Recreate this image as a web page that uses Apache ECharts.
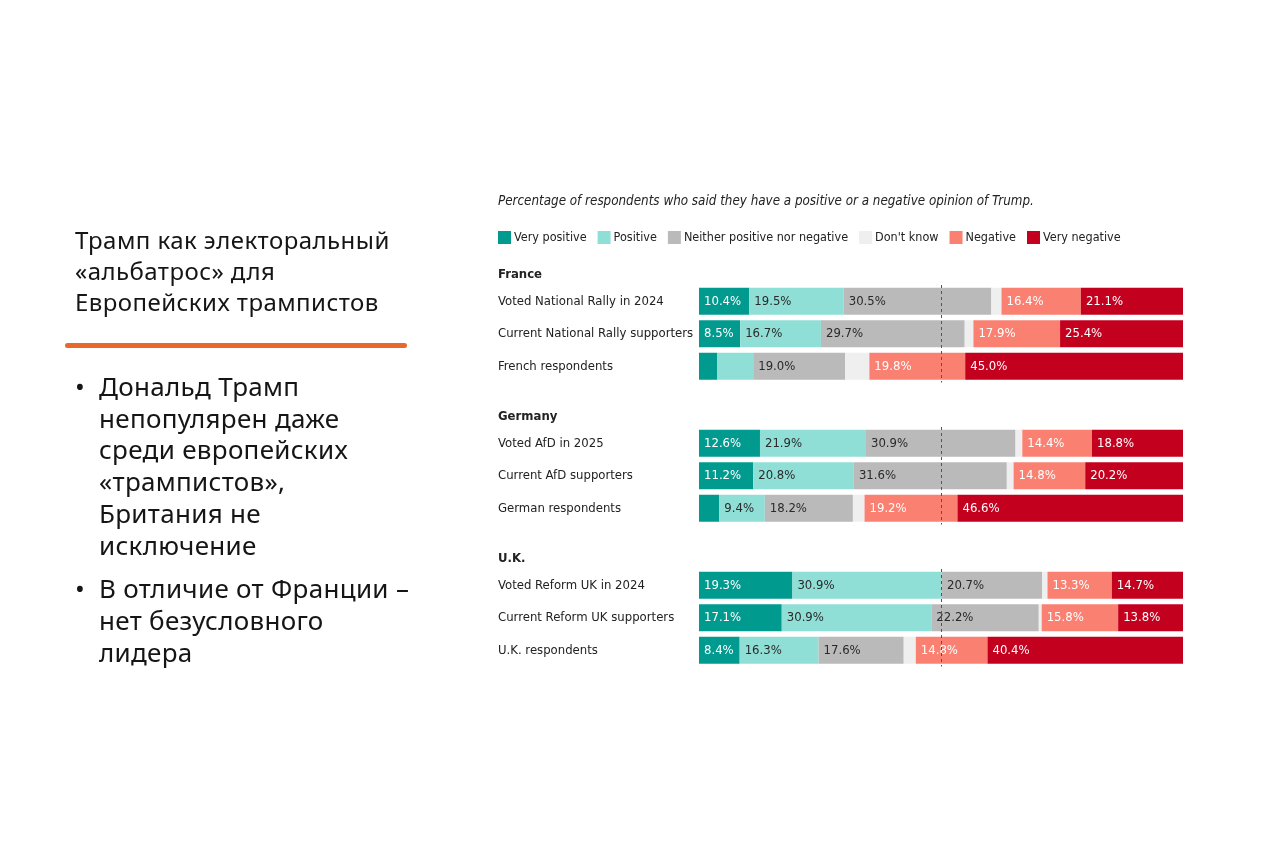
<!DOCTYPE html>
<html>
<head>
<meta charset="utf-8">
<script src="https://cdn.jsdelivr.net/npm/echarts@6/dist/echarts.min.js"></script>
<style>
  html, body { margin: 0; padding: 0; background: #fff; }
  #chart { position: absolute; left: 0; top: 0; width: 1280px; height: 847px; }
  .slide { position: absolute; font-family: "Noto Sans", sans-serif; color: #151515; }
  .head { left: 75px; top: 224px; font-size: 24px; line-height: 31px; letter-spacing: 0.45px; }
  .rule { position: absolute; left: 65px; top: 343px; width: 342px; height: 5px; background: #e8692a; border-radius: 3px; }
  .bullets { left: 75px; top: 371px; font-size: 26px; line-height: 31.7px; letter-spacing: 0.3px; margin: 0; padding: 0; list-style: none; }
  .bullets li { position: relative; padding-left: 24px; margin-bottom: 12px; }
  .bullets li:before { content: "\2022"; position: absolute; left: 0; top: 0; }
</style>
</head>
<body>
<div id="chart"></div>
<div class="slide head">Трамп как электоральный<br>«альбатрос» для<br>Европейских трампистов</div>
<div class="rule"></div>
<ul class="slide bullets">
  <li>Дональд Трамп<br>непопулярен даже<br>среди европейских<br>«трампистов»,<br>Британия не<br>исключение</li>
  <li>В отличие от Франции –<br>нет безусловного<br>лидера</li>
</ul>
<script type="text/javascript">
// answers, in stacking order
const answers = ['Very positive', 'Positive', 'Neither positive nor negative', "Don't know", 'Negative', 'Very negative'];
const colors = ['#009a8e', '#8fdfd7', '#bababa', '#efefef', '#fa8072', '#c4001f'];
const labelColors = ['#fff', '#2a2a2a', '#2a2a2a', '#2a2a2a', '#fff', '#fff'];

const countries = ['France', 'Germany', 'U.K.'];
const rows = [
  ['Voted National Rally in 2024', 'Current National Rally supporters', 'French respondents'],
  ['Voted AfD in 2025', 'Current AfD supporters', 'German respondents'],
  ['Voted Reform UK in 2024', 'Current Reform UK supporters', 'U.K. respondents']
];

// per country, one value per row
const veryPositive = [[10.4, 8.5, 3.8], [12.6, 11.2, 4.2], [19.3, 17.1, 8.4]];
const positive     = [[19.5, 16.7, 7.4], [21.9, 20.8, 9.4], [30.9, 30.9, 16.3]];
const neither      = [[30.5, 29.7, 19.0], [30.9, 31.6, 18.2], [20.7, 22.2, 17.6]];
const dontKnow     = [[2.1, 1.8, 5.0], [1.4, 1.4, 2.4], [1.1, 0.6, 2.5]];
const negative     = [[16.4, 17.9, 19.8], [14.4, 14.8, 19.2], [13.3, 15.8, 14.8]];
const veryNegative = [[21.1, 25.4, 45.0], [18.8, 20.2, 46.6], [14.7, 13.8, 40.4]];

const values = [veryPositive, positive, neither, dontKnow, negative, veryNegative];
const gridTops = [285, 427, 569];

const font = '"Liberation Sans Narrow", "DejaVu Sans Condensed", sans-serif';

const myChart = echarts.init(document.getElementById('chart'));

const grids = [], xAxes = [], yAxes = [], series = [], headers = [];
countries.forEach(function (country, g) {
    grids.push({ left: 699, right: 97, top: gridTops[g], height: 97.5 });
    xAxes.push({
        gridIndex: g, type: 'value', min: 0, max: 100, show: false
    });
    yAxes.push({
        gridIndex: g, type: 'category', inverse: true, data: rows[g],
        axisLine: { show: false }, axisTick: { show: false },
        axisLabel: { align: 'left', margin: 201, color: '#222', fontSize: 13, fontFamily: font }
    });
    headers.push({
        type: 'text', left: 498, top: gridTops[g] - 17,
        style: { text: country, fill: '#222', font: 'bold 13px ' + font }
    });
    answers.forEach(function (name, k) {
        const s = {
            name: name, type: 'bar', stack: 'c' + g,
            xAxisIndex: g, yAxisIndex: g,
            barWidth: 27,
            data: values[k][g],
            itemStyle: { color: colors[k] },
            label: {
                show: true, position: 'insideLeft', distance: 5,
                color: labelColors[k], fontSize: 13, fontFamily: font,
                formatter: function (p) { return p.value >= 8 ? p.value.toFixed(1) + '%' : ''; }
            },
            emphasis: { disabled: true }
        };
        if (k === answers.length - 1) {
            s.z = 3;
            s.markLine = {
                silent: true, symbol: 'none', label: { show: false },
                lineStyle: { type: [3, 3], color: '#555', width: 1 },
                data: [{ xAxis: 50 }]
            };
        }
        series.push(s);
    });
});

const option = {
    animation: false,
    color: colors,
    title: {
        text: 'Percentage of respondents who said they have a positive or a negative opinion of Trump.',
        left: 493, top: 190,
        textStyle: { fontSize: 13.3, fontStyle: 'italic', fontWeight: 'normal', color: '#222', fontFamily: font }
    },
    legend: {
        left: 493, top: 226, itemWidth: 13, itemHeight: 13, itemGap: 11,
        icon: 'rect', data: answers,
        textStyle: { fontSize: 12.5, color: '#222', fontFamily: font, padding: [0, 0, 0, -2] }
    },
    grid: grids,
    xAxis: xAxes,
    yAxis: yAxes,
    graphic: headers,
    series: series
};
myChart.setOption(option);
</script>
</body>
</html>
